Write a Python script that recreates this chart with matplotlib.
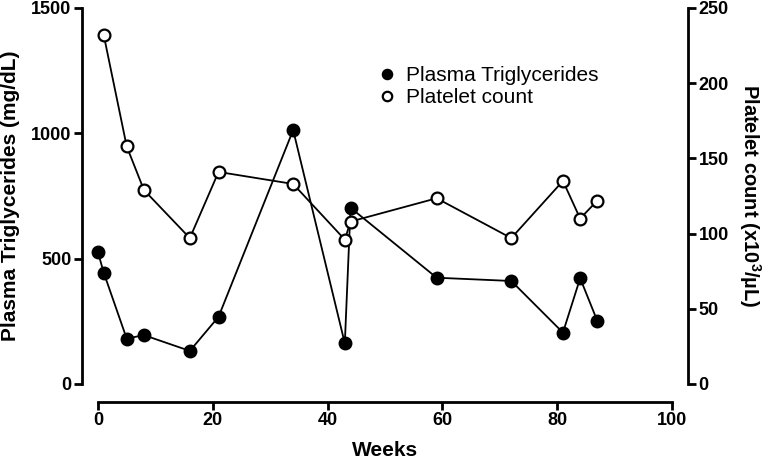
import matplotlib
matplotlib.use("Agg")
import matplotlib.pyplot as plt

# data
weeks_tg = [0, 1, 5, 8, 16, 21, 34, 43, 44, 59, 72, 81, 84, 87]
triglycerides = [525, 444, 181, 195, 132, 268, 1013, 162, 703, 424, 411, 205, 422, 251]

weeks_plt = [1, 5, 8, 16, 21, 34, 43, 44, 59, 72, 81, 84, 87]
platelets = [232, 158, 129, 97, 141, 133, 96, 108, 123.5, 97, 135, 110, 122]

plt.rcParams['font.family'] = ['Liberation Sans', 'DejaVu Sans']
plt.rcParams['font.weight'] = 'bold'
plt.rcParams['mathtext.fontset'] = 'custom'
plt.rcParams['mathtext.rm'] = 'Liberation Sans:bold'
plt.rcParams['mathtext.bf'] = 'Liberation Sans:bold'
plt.rcParams['mathtext.default'] = 'bf'

W, H = 767, 459
fig = plt.figure(figsize=(W / 100, H / 100), dpi=100)
# axes box in pixels: x 98..672, y 8..384 (from top)
ax = fig.add_axes([98 / W, (H - 384) / H, 574 / W, 376 / H])
ax2 = ax.twinx()

ax.plot(weeks_tg, triglycerides, color='black', lw=1.3, marker='o', ms=8.5,
        mfc='black', mec='black', mew=1.5, label='Plasma Triglycerides',
        zorder=3, clip_on=False)
ax2.plot(weeks_plt, platelets, color='black', lw=1.3, marker='o', ms=8.5,
         mfc='white', mec='black', mew=1.6, label='Platelet count',
         zorder=3, clip_on=False)

ax.set_xlim(0, 100)
ax.set_ylim(0, 1500)
ax2.set_ylim(0, 250)
ax.set_xticks([0, 20, 40, 60, 80, 100])
ax.set_yticks([0, 500, 1000, 1500])
ax2.set_yticks([0, 50, 100, 150, 200, 250])

for a in (ax, ax2):
    for s in a.spines.values():
        s.set_linewidth(2.0)
    a.spines['top'].set_visible(False)
    a.tick_params(width=2.0, length=5.5, labelsize=13, pad=2)

ax.spines['right'].set_visible(False)
ax2.spines['left'].set_visible(False)
ax2.spines['bottom'].set_visible(False)
# offsets in points (px * 0.72)
ax.spines['left'].set_position(('outward', 11.5))
ax.spines['bottom'].set_position(('outward', 13))
ax2.spines['right'].set_position(('outward', 11.5))

plt.setp(ax.get_xticklabels() + ax.get_yticklabels() + ax2.get_yticklabels(),
         fontweight='bold')

ax.set_xlabel('Weeks', fontsize=15, fontweight='bold', va='center')
ax.xaxis.set_label_coords(0.5, -0.176)
ax.set_ylabel('Plasma Triglycerides (mg/dL)', fontsize=15, fontweight='bold',
              va='center')
ax.yaxis.set_label_coords(-0.152, 0.5)
ax2.set_ylabel('Platelet count (x10$^3$/µL)', fontsize=14.5, fontweight='bold',
               rotation=270, va='center', ha='center')
ax2.yaxis.set_label_coords(1.135, 0.5)

h1, l1 = ax.get_legend_handles_labels()
h2, l2 = ax2.get_legend_handles_labels()
leg = ax2.legend(h1 + h2, l1 + l2, loc='upper left',
                 bbox_to_anchor=(379 / W, (H - 66) / H),
                 bbox_transform=fig.transFigure,
                 frameon=False, handlelength=0.8, handletextpad=0.5,
                 labelspacing=0.15, borderpad=0, borderaxespad=0,
                 markerscale=0.8, prop={'size': 15, 'weight': 'normal'})
for line in leg.get_lines():
    line.set_linestyle('none')

fig.savefig('out.png', dpi=100)
